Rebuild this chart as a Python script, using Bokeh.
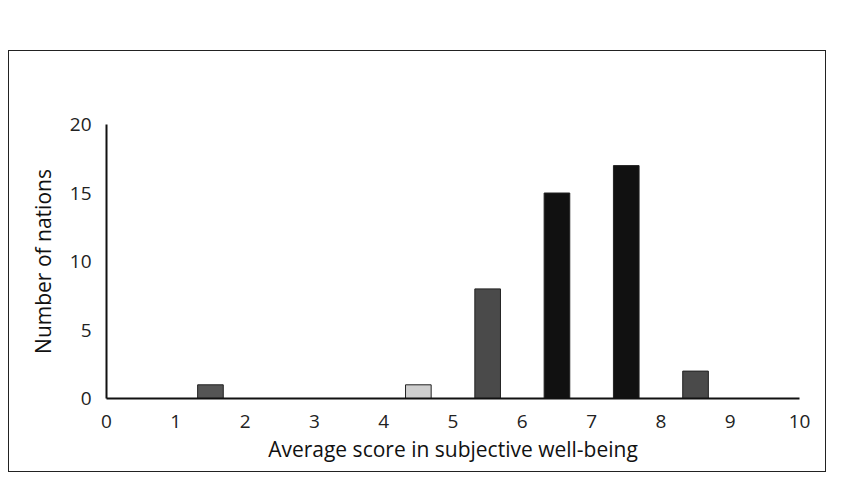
from bokeh.plotting import figure
from bokeh.embed import file_html
from bokeh.resources import INLINE
from bokeh.models import FixedTicker, Range1d

# Data: histogram of nations by average subjective well-being score
bin_starts = [1, 4, 5, 6, 7, 8]
counts = [1, 1, 8, 15, 17, 2]
bar_colors = ["#555555", "#cfcfcf", "#4a4a4a", "#111111", "#111111", "#4a4a4a"]
x_ticks = [0, 1, 2, 3, 4, 5, 6, 7, 8, 9, 10]
y_ticks = [0, 5, 10, 15, 20]

bar_width = 0.37
centers = [b + 0.5 for b in bin_starts]

p = figure(
    width=818, height=422,
    output_backend="svg", toolbar_location=None,
    x_range=Range1d(0, 10), y_range=Range1d(0, 20),
    min_border_left=97, min_border_right=28,
    min_border_top=73, min_border_bottom=75,
    outline_line_color=None,
)
p.margin = (50, 0, 0, 8)
p.styles = {"border": "1.5px solid #222"}

p.vbar(x=centers, top=counts, bottom=0, width=bar_width,
       fill_color=bar_colors, line_color="#222222", line_width=1)

p.grid.visible = False

font = "Open Sans"
p.xaxis.ticker = FixedTicker(ticks=x_ticks)
p.yaxis.ticker = FixedTicker(ticks=y_ticks)
for ax in (p.xaxis[0], p.yaxis[0]):
    ax.axis_line_width = 2
    ax.axis_line_color = "#111111"
    ax.major_tick_line_color = None
    ax.minor_tick_line_color = None
    ax.major_label_text_font = font
    ax.major_label_text_font_size = "19px"
    ax.major_label_text_color = "#222222"
    ax.axis_label_text_font = font
    ax.axis_label_text_font_size = "21px"
    ax.axis_label_text_font_style = "normal"
    ax.axis_label_text_color = "#111111"

p.xaxis.axis_label = "Average score in subjective well-being"
p.yaxis.axis_label = "Number of nations"
p.xaxis.major_label_standoff = 10
p.yaxis.major_label_standoff = 9
p.xaxis.axis_label_standoff = 4
p.yaxis.axis_label_standoff = 10

open("out.html", "w").write(file_html(p, INLINE))
